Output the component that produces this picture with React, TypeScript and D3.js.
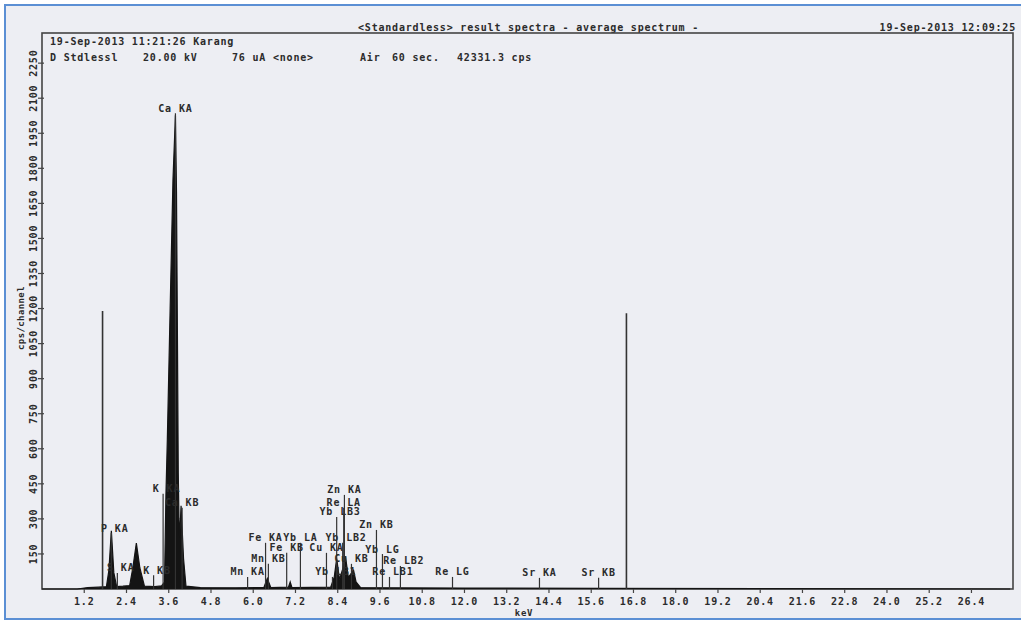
import React from 'react';
import * as d3 from 'd3';

const W = 1021;
const H = 622;

// axis ticks
const xTicks = [1.2, 2.4, 3.6, 4.8, 6.0, 7.2, 8.4, 9.6, 10.8, 12.0, 13.2, 14.4, 15.6, 16.8, 18.0, 19.2, 20.4, 21.6, 22.8, 24.0, 25.2, 26.4];
const yTicks = [150, 300, 450, 600, 750, 900, 1050, 1200, 1350, 1500, 1650, 1800, 1950, 2100, 2250];

// spectrum: energy (keV) / counts (cps/channel)
const spectrumKeV = [0, 1.0, 1.3, 1.6, 1.83, 1.9, 1.97, 2.04, 2.12, 2.3, 2.49, 2.58, 2.68, 2.78, 2.91, 3.2, 3.4, 3.48, 3.52, 3.56, 3.64, 3.72, 3.79, 3.82, 3.85, 3.87, 3.89, 3.91, 3.95, 4.02, 4.09, 4.5, 5.5, 6.3, 6.4, 6.5, 7.0, 7.05, 7.1, 8.2, 8.3, 8.37, 8.45, 8.55, 8.62, 8.7, 8.85, 8.92, 9.05, 10.0, 12.0, 16.0, 27.5];
const spectrumCps = [0, 0, 6, 8, 10, 80, 249, 70, 10, 12, 15, 90, 197, 90, 12, 10, 14, 30, 400, 640, 1200, 1750, 2027, 1700, 1000, 500, 300, 220, 356, 130, 12, 6, 5, 6, 45, 6, 8, 30, 6, 8, 50, 130, 40, 90, 140, 50, 80, 30, 6, 5, 4, 3, 0];

// region markers (the two tall thin lines)
const markerKeV = [1.72, 16.6];
const markerCps = [1190, 1180];

// element line labels: name, energy (keV), label level (cps)
const lineNames = ['Ca KA', 'K KA', 'Ca KB', 'P KA', 'S KA', 'K KB', 'Mn KA', 'Mn KB', 'Fe KA', 'Fe KB', 'Cu KA', 'Yb LA', 'Yb LB2', 'Yb LB3', 'Re LA', 'Zn KA', 'Zn KB', 'Yb LG', 'Cu KB', 'Yb LB1', 'Re LB2', 'Re LB1', 'Re LG', 'Sr KA', 'Sr KB'];
const lineKeV = [3.79, 3.44, 3.98, 1.97, 2.14, 3.17, 5.84, 6.43, 6.35, 6.95, 8.08, 7.34, 8.54, 8.37, 8.57, 8.59, 9.5, 9.67, 8.79, 8.25, 10.18, 9.87, 11.66, 14.13, 15.81];
const lineLevel = [2057, 429, 369, 261, 90, 80, 73, 129, 219, 176, 176, 219, 219, 330, 369, 424, 274, 171, 129, 73, 120, 73, 73, 69, 69];

const mono = '"DejaVu Sans Mono", "Liberation Mono", monospace';
const ink = '#2b2b2b';

const App = () => {
  const x = d3.scaleLinear().domain([0, 27.58]).range([42, 1013]);
  const y = d3.scaleLinear().domain([0, 2379]).range([589, 33]);

  const pts = spectrumKeV.map((k, i) => [k, spectrumCps[i]] as [number, number]);
  const area = d3.area<[number, number]>()
    .x((d) => x(d[0]))
    .y0(y(0))
    .y1((d) => y(d[1]));
  const line = d3.line<[number, number]>()
    .x((d) => x(d[0]))
    .y((d) => y(d[1]));

  const txt = { fontFamily: mono, fontSize: 10, fontWeight: 700, letterSpacing: 0.8, fill: ink } as const;

  return (
    <svg width={W} height={H} style={{ position: 'absolute', left: 0, top: 0 }}>
      <rect x={0} y={0} width={W} height={H} fill="#ffffff" />
      <rect x={5} y={5} width={W + 10} height={614} fill="#edeef3" stroke="#5b8fd4" strokeWidth={2} />

      {/* header */}
      <text x={358} y={31} {...txt}>{'<Standardless> result spectra - average spectrum -'}</text>
      <text x={1016} y={31} textAnchor="end" {...txt}>19-Sep-2013 12:09:25</text>

      {/* plot frame */}
      <rect x={x(0)} y={y.range()[1]} width={x(27.58) - x(0)} height={y(0) - y.range()[1]} fill="none" stroke="#444" strokeWidth={1.6} />

      {/* info lines */}
      <text x={50} y={45} {...txt}>19-Sep-2013 11:21:26 Karang</text>
      <text x={50} y={61} {...txt}>D Stdlessl</text>
      <text x={143} y={61} {...txt}>20.00 kV</text>
      <text x={232} y={61} {...txt}>{'76 uA <none>'}</text>
      <text x={360} y={61} {...txt}>Air</text>
      <text x={392} y={61} {...txt}>60 sec.</text>
      <text x={457} y={61} {...txt}>42331.3 cps</text>

      {/* spectrum */}
      <path d={area(pts) ?? ''} fill="#141414" />
      <path d={line(pts) ?? ''} fill="none" stroke="#141414" strokeWidth={1.2} />

      {/* markers */}
      {markerKeV.map((k, i) => (
        <line key={'m' + i} x1={x(k)} x2={x(k)} y1={y(markerCps[i])} y2={y(0)} stroke="#333" strokeWidth={1.6} />
      ))}

      {/* element labels */}
      {lineNames.map((n, i) => {
        const [el, ln] = n.split(' ');
        const cx = x(lineKeV[i]);
        const cy = y(lineLevel[i]);
        return (
          <g key={n}>
            <line x1={cx} x2={cx} y1={cy + 5} y2={y(0)} stroke="#333" strokeWidth={1.2} />
            <text x={cx - 3.5} y={cy} dy="0.35em" textAnchor="end" {...txt}>{el}</text>
            <text x={cx + 3.5} y={cy} dy="0.35em" {...txt}>{ln}</text>
          </g>
        );
      })}

      {/* y axis */}
      {yTicks.map((t) => (
        <g key={'y' + t}>
          <line x1={x(0) - 4} x2={x(0) + 2} y1={y(t)} y2={y(t)} stroke="#444" strokeWidth={1.2} />
          <text transform={`translate(33,${y(t)}) rotate(-90)`} textAnchor="middle" dy="0.35em" {...txt}>{t}</text>
        </g>
      ))}
      <text transform="translate(21,318) rotate(-90)" textAnchor="middle" dy="0.35em" {...txt} fontSize={9} letterSpacing={0.4}>cps/channel</text>

      {/* x axis */}
      {xTicks.map((t) => (
        <g key={'x' + t}>
          <line x1={x(t)} x2={x(t)} y1={y(0)} y2={y(0) + 4} stroke="#444" strokeWidth={1.2} />
          <text x={x(t)} y={601} dy="0.35em" textAnchor="middle" {...txt}>{t.toFixed(1)}</text>
        </g>
      ))}
      <text x={524} y={613} dy="0.35em" textAnchor="middle" {...txt} fontSize={9}>keV</text>
    </svg>
  );
};

export default App;
